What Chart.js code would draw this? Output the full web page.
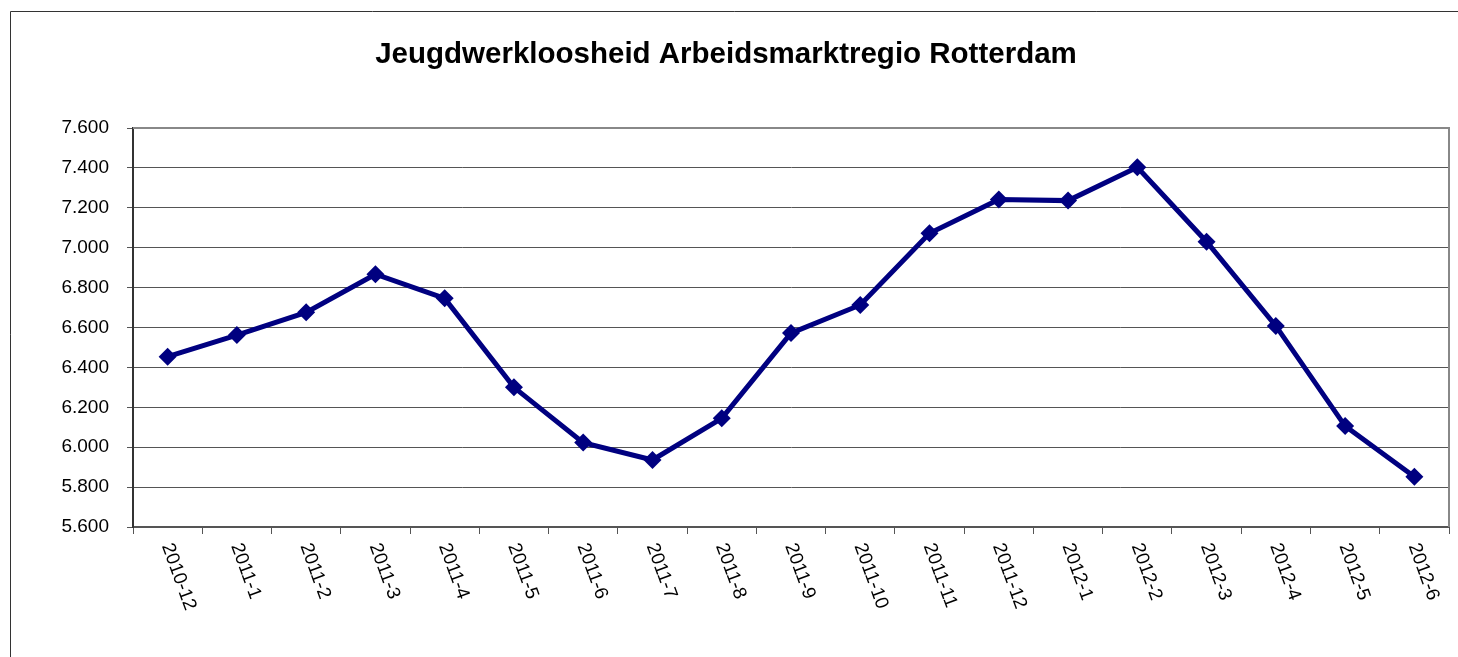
<!DOCTYPE html>
<html>
<head>
<meta charset="utf-8">
<script src="https://cdn.jsdelivr.net/npm/chart.js@4"></script>
<style>
	body { margin: 0; background: #fff; }
	canvas { display: block; }
</style>
</head>
<body>
<canvas id="chartJeugd" width="1458" height="657"></canvas>
<script>
const maanden = [
	"2010-12", "2011-1", "2011-2", "2011-3", "2011-4", "2011-5", "2011-6",
	"2011-7", "2011-8", "2011-9", "2011-10", "2011-11", "2011-12",
	"2012-1", "2012-2", "2012-3", "2012-4", "2012-5", "2012-6",
];
const werklozen = [
	6454, 6562, 6676, 6867, 6746, 6300, 6023, 5936, 6145, 6572,
	6713, 7072, 7242, 7236, 7403, 7030, 6608, 6106, 5852,
];
const yMin = 5600;
const yMax = 7600;
const yStap = 200;
const titel = "Jeugdwerkloosheid Arbeidsmarktregio Rotterdam";

const fontFam = "'Liberation Sans', Arial, sans-serif";

// thousands with a dot, like 7.600
const formatNL = (v) => {
	const dzd = Math.floor(v / 1000);
	const rest = String(v % 1000).padStart(3, "0");
	return `${dzd}.${rest}`;
};

// outer frame + plot border + slanted month labels
const kaderPlugin = {
	id: "kader",
	beforeDraw: (chart) => {
		const ctx = chart.ctx;
		ctx.save();
		ctx.strokeStyle = "#333";
		ctx.lineWidth = 1;
		ctx.beginPath();
		ctx.moveTo(10.5, 657);
		ctx.lineTo(10.5, 11.5);
		ctx.lineTo(1458, 11.5);
		ctx.stroke();
		ctx.restore();
	},
	afterDatasetsDraw: (chart) => {
		const ctx = chart.ctx;
		const area = chart.chartArea;
		ctx.save();
		ctx.strokeStyle = "#888";
		ctx.lineWidth = 2;
		ctx.beginPath();
		ctx.moveTo(area.left, area.top);
		ctx.lineTo(area.right, area.top);
		ctx.lineTo(area.right, area.bottom);
		ctx.stroke();
		ctx.restore();
	},
	afterDraw: (chart) => {
		const ctx = chart.ctx;
		const xScale = chart.scales.x;
		ctx.save();
		ctx.font = `19px ${fontFam}`;
		ctx.fillStyle = "#000";
		ctx.textAlign = "left";
		ctx.textBaseline = "middle";
		maanden.forEach((m, i) => {
			const x = xScale.getPixelForValue(i);
			ctx.save();
			ctx.translate(x - 1, chart.chartArea.bottom + 17);
			ctx.rotate((70 * Math.PI) / 180);
			ctx.fillText(m, 0, 0);
			ctx.restore();
		});
		ctx.restore();
	},
};

const ctx = document.getElementById("chartJeugd");
const chart = new Chart(ctx, {
	type: "line",
	data: {
		labels: maanden,
		datasets: [
			{
				label: "Jeugdwerkloosheid",
				data: werklozen,
				borderColor: "#000080",
				backgroundColor: "#000080",
				borderWidth: 5,
				pointStyle: "rectRot",
				pointRadius: 9,
				pointHoverRadius: 9,
				pointBorderWidth: 0,
				tension: 0,
			},
		],
	},
	options: {
		responsive: false,
		animation: false,
		devicePixelRatio: 1,
		layout: {
			padding: { left: 0, right: 6, top: 0, bottom: 0 },
		},
		plugins: {
			legend: { display: false },
			tooltip: { enabled: false },
			title: {
				display: true,
				text: titel,
				color: "#000",
				font: { family: fontFam, size: 29.5, weight: "bold", lineHeight: 1.2 },
				padding: { top: 37, bottom: 55.6 },
			},
		},
		scales: {
			x: {
				offset: true,
				grid: {
					offset: true,
					drawOnChartArea: false,
					drawTicks: true,
					tickLength: 7,
					color: "#555",
				},
				border: { display: true, color: "#555", width: 2 },
				ticks: { display: false },
				afterFit: (scale) => {
					scale.height = 130;
				},
			},
			y: {
				min: yMin,
				max: yMax,
				grid: {
					color: "#555",
					lineWidth: 1,
					drawTicks: true,
					tickLength: 6,
				},
				border: { display: true, color: "#333", width: 2 },
				ticks: {
					stepSize: yStap,
					padding: 18,
					color: "#000",
					font: { family: fontFam, size: 19 },
					callback: (v) => formatNL(v),
				},
				afterFit: (scale) => {
					scale.width = 133;
				},
			},
		},
	},
	plugins: [kaderPlugin],
});
</script>
</body>
</html>
